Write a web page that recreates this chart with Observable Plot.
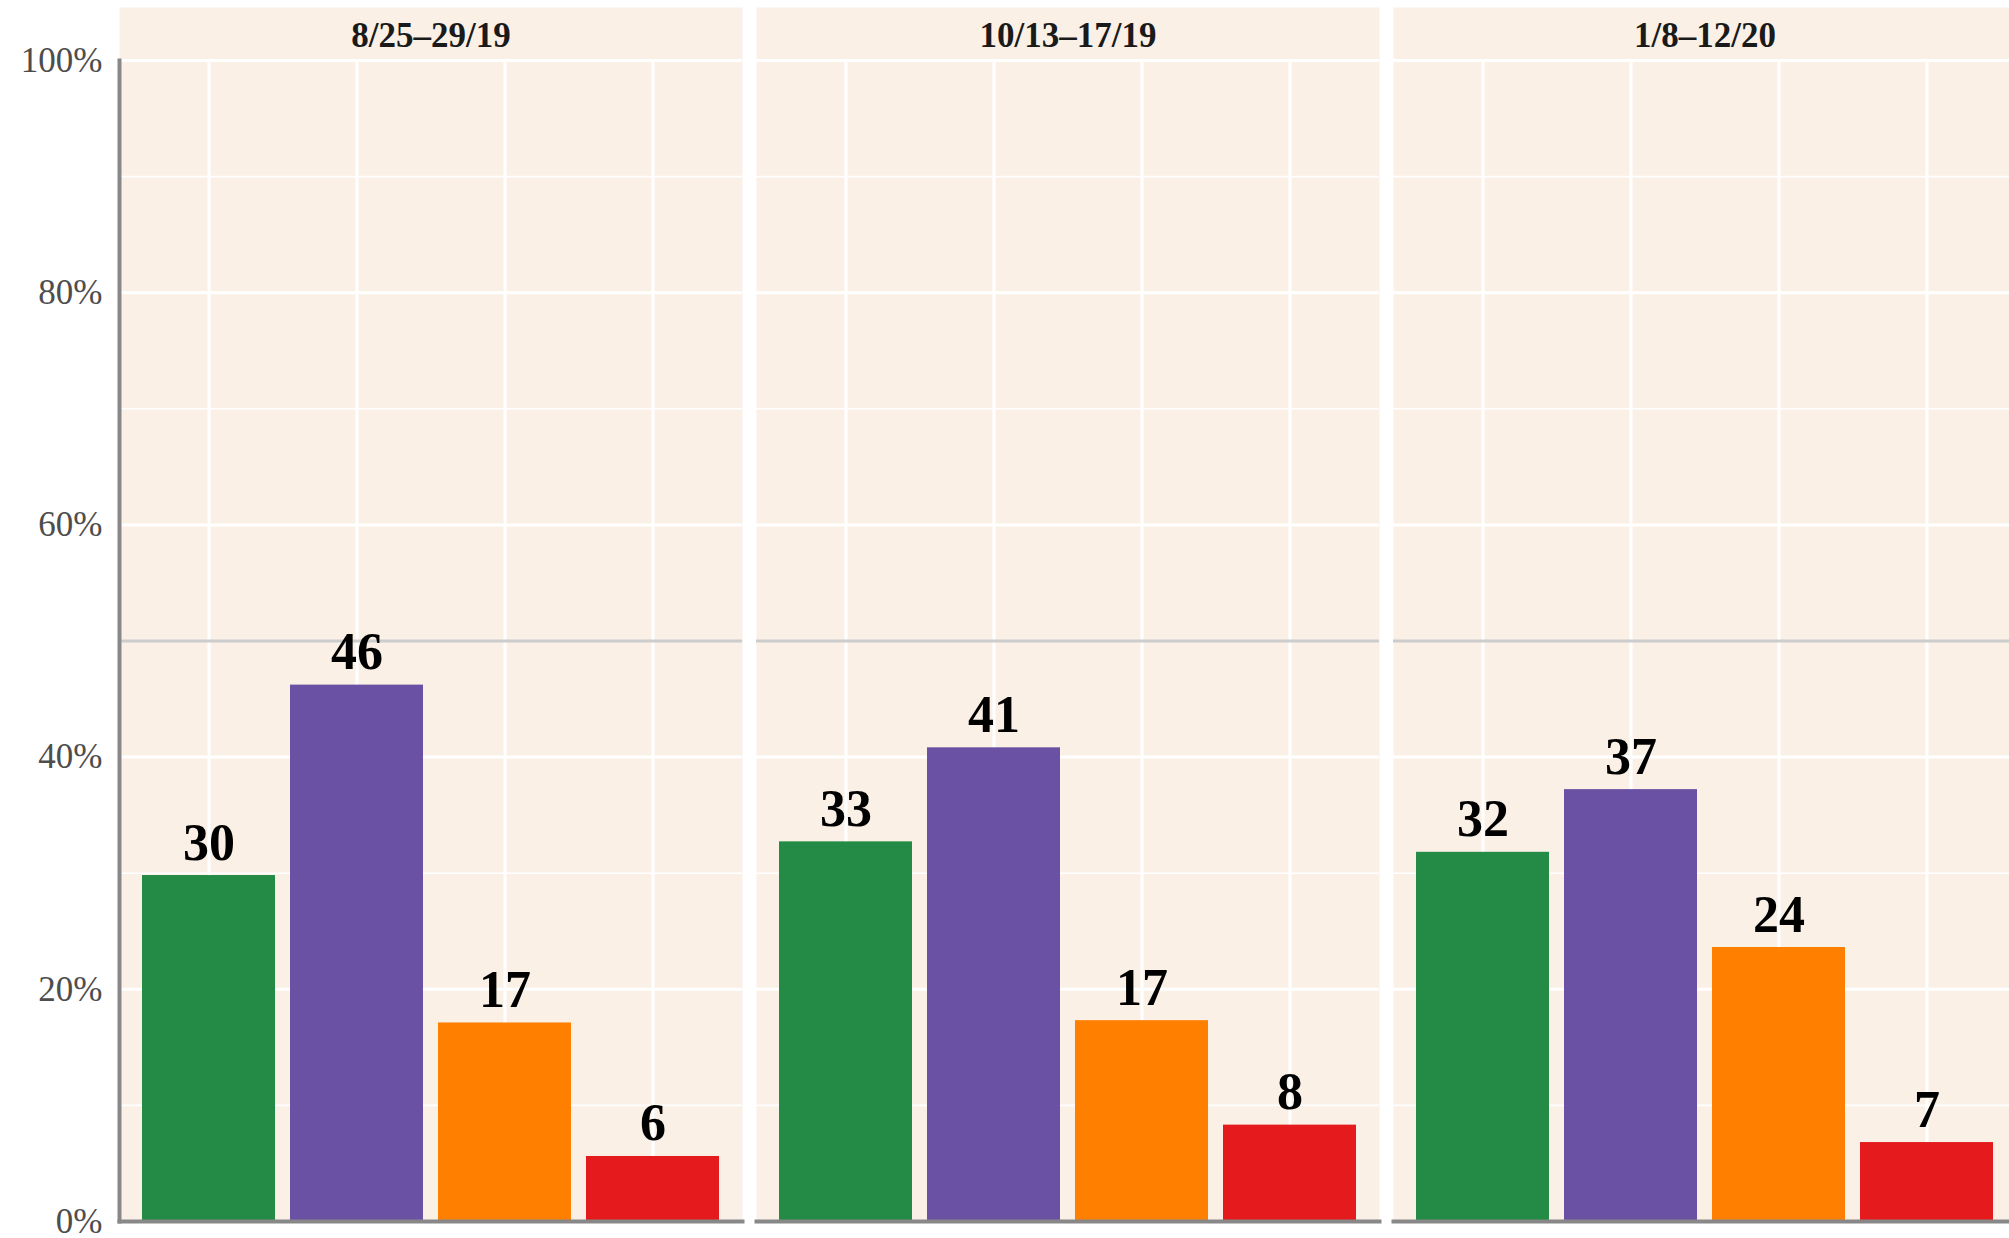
<!DOCTYPE html>
<html>
<head>
<meta charset="utf-8">
<script src="https://cdn.jsdelivr.net/npm/d3@7"></script>
<script src="https://cdn.jsdelivr.net/npm/@observablehq/plot@0.6"></script>
<style>
  html, body { margin: 0; padding: 0; background: #ffffff; overflow: hidden; }
  #chart svg { display: block; max-width: none !important; }
</style>
</head>
<body>
<div id="chart"></div>
<script>
// Survey waves (facets)
const dates = ["8/25–29/19", "10/13–17/19", "1/8–12/20"];
// Response categories (bar order within each facet)
const categories = ["Category 1", "Category 2", "Category 3", "Category 4"];
const colors = ["#238B45", "#6A51A3", "#FF7F00", "#E41A1C"];
// Percentages per wave
const wave1 = [29.8, 46.2, 17.1, 5.6];
const wave2 = [32.7, 40.8, 17.3, 8.3];
const wave3 = [31.8, 37.2, 23.6, 6.8];
// Axis ticks
const yTicks = [0, 20, 40, 60, 80, 100];
const minorTicks = [10, 30, 50, 70, 90];
const refLine = [50];

const waves = [wave1, wave2, wave3];
const rows = [];
dates.forEach((date, i) => {
  categories.forEach((cat, j) => {
    rows.push({date, cat, value: waves[i][j]});
  });
});

const chart = Plot.plot({
  width: 2016,
  height: 1238,
  marginLeft: 119,
  marginRight: 0,
  marginTop: 60,
  marginBottom: 17,
  style: {fontFamily: "'Liberation Serif', 'DejaVu Serif', serif", background: "#ffffff"},
  fx: {domain: dates, paddingInner: 14 / 637, paddingOuter: 0, label: null},
  x: {domain: categories, paddingInner: 0.1, paddingOuter: 0.15, axis: null},
  y: {domain: [0, 100], axis: null},
  color: {domain: categories, range: colors},
  marks: [
    Plot.frame({fill: "#FAF0E6", stroke: "none", insetTop: -53}),
    Plot.ruleY(minorTicks, {stroke: "#ffffff", strokeWidth: 1.6}),
    Plot.ruleY(yTicks, {stroke: "#ffffff", strokeWidth: 3}),
    Plot.gridX({stroke: "#ffffff", strokeOpacity: 1, strokeWidth: 3}),
    Plot.ruleY(refLine, {stroke: "#cccccc", strokeWidth: 3}),
    Plot.barY(rows, {fx: "date", x: "cat", y: "value", fill: "cat"}),
    Plot.text(rows, {
      fx: "date", x: "cat", y: "value",
      text: d => String(Math.round(d.value)),
      dy: -16, lineAnchor: "bottom",
      fontSize: 52, fontWeight: "bold", fill: "#000000"
    }),
    Plot.axisY({
      ticks: yTicks, tickFormat: d => d + "%", tickSize: 0, tickPadding: 17,
      fontSize: 35, color: "#4d4d4d", label: null
    }),
    Plot.axisFx({
      anchor: "top", tickSize: 0, tickPadding: 14,
      fontSize: 35, fontWeight: "bold", color: "#1a1a1a", label: null
    }),
    Plot.frame({anchor: "left", stroke: "#888888", strokeWidth: 4, facetAnchor: "left"}),
    Plot.frame({anchor: "bottom", stroke: "#888888", strokeWidth: 4})
  ]
});
document.getElementById("chart").append(chart);
</script>
</body>
</html>
